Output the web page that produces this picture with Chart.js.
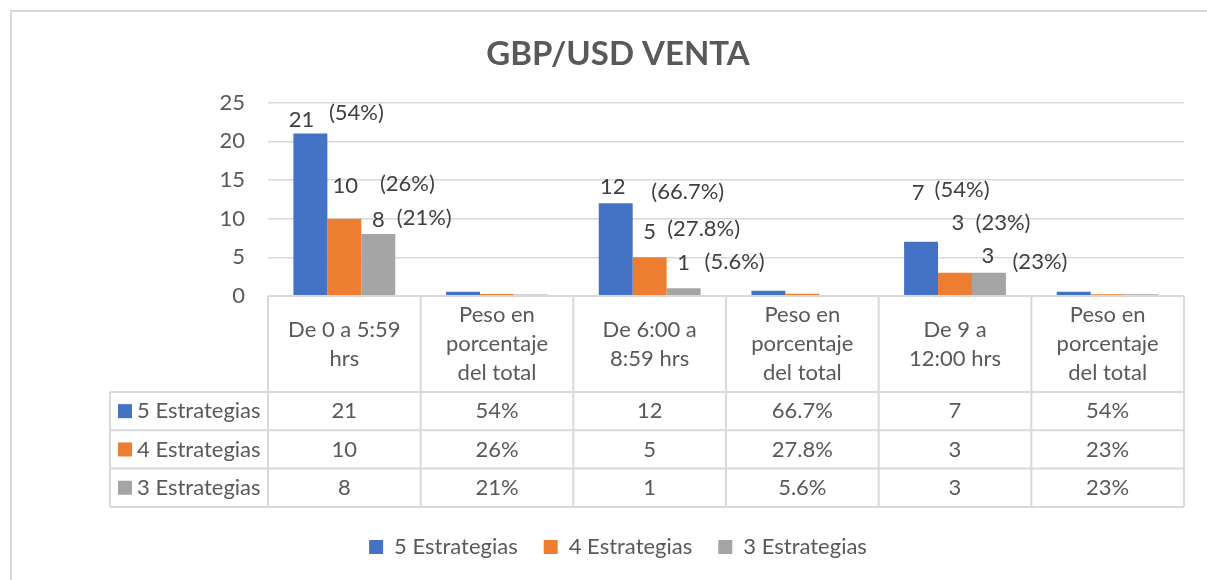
<!DOCTYPE html>
<html lang="es">
<head>
<meta charset="UTF-8">
<title>GBP/USD VENTA</title>
<script src="https://cdn.jsdelivr.net/npm/chart.js@4.4.1/dist/chart.umd.min.js"></script>
<style>
    body {
        margin: 0;
        background: white;
    }
</style>
</head>
<body>
<canvas id="grafico" width="1207" height="580"></canvas>

<script>
    const categorias = [
        ['De 0 a 5:59', 'hrs'],
        ['Peso en', 'porcentaje', 'del total'],
        ['De 6:00 a', '8:59 hrs'],
        ['Peso en', 'porcentaje', 'del total'],
        ['De 9 a', '12:00 hrs'],
        ['Peso en', 'porcentaje', 'del total']
    ];
    const series = ['5 Estrategias', '4 Estrategias', '3 Estrategias'];
    const estrategias5 = [21, 0.54, 12, 0.667, 7, 0.54];
    const estrategias4 = [10, 0.26, 5, 0.278, 3, 0.23];
    const estrategias3 = [8, 0.21, 1, 0.056, 3, 0.23];
    const ticksY = [0, 5, 10, 15, 20, 25];
    const colores = ['#4472C4', '#ED7D31', '#A5A5A5'];

    // desplazamiento de las etiquetas (numero y porcentaje) respecto a la barra: [dx, dy, dx%, dy%]
    const desplazamientos = [
        [[-9, -14, 46, -21], [-3, -16, 72, -11], [-3, -49, 41, -52]],
        [[1, -33, 63, -35], [0, -25, 54, -28], [3, -50, 48, -50]],
        [[0, -14, 46, -16], [0, -25, 51, -26], [-1, -17, 51, -11]]
    ];

    const fuente = 'Lato';
    const gris = '#595959';
    const tam = 22;

    function formato(v) {
        return v < 1 ? Number((v * 100).toFixed(1)) + '%' : String(v);
    }

    const marco = {
        id: 'marco',
        beforeDraw(chart) {
            const ctx = chart.ctx;
            ctx.save();
            ctx.strokeStyle = '#D9D9D9';
            ctx.lineWidth = 2;
            ctx.strokeRect(11, 11, 1400, 800);
            ctx.restore();
        }
    };

    const etiquetas = {
        id: 'etiquetas',
        afterDatasetsDraw(chart) {
            const ctx = chart.ctx;
            ctx.save();
            ctx.font = tam + 'px ' + fuente;
            ctx.fillStyle = '#404040';
            ctx.textAlign = 'center';
            ctx.textBaseline = 'middle';
            chart.data.datasets.forEach((ds, i) => {
                const meta = chart.getDatasetMeta(i);
                for (let j = 0, g = 0; j < ds.data.length; j += 2, g++) {
                    const barra = meta.data[j];
                    const d = desplazamientos[i][g];
                    ctx.fillText(formato(ds.data[j]), barra.x + d[0], barra.y + d[1]);
                    ctx.fillText('(' + formato(ds.data[j + 1]) + ')', barra.x + d[2], barra.y + d[3]);
                }
            });
            ctx.restore();
        }
    };

    // tabla de datos bajo el grafico
    const tabla = {
        id: 'tabla',
        afterDraw(chart) {
            const {ctx, chartArea} = chart;
            const x = chart.scales.x;
            const n = categorias.length;
            const ancho = (chartArea.right - chartArea.left) / n;
            const izq = 110;
            const arriba = chartArea.bottom;
            const altoCab = 96, altoFila = 38.3;
            const abajo = arriba + altoCab + altoFila * 3;

            ctx.save();
            ctx.strokeStyle = '#D9D9D9';
            ctx.lineWidth = 2;
            ctx.beginPath();
            ctx.moveTo(chartArea.left, arriba);
            ctx.lineTo(chartArea.right, arriba);
            for (let r = 0; r <= 3; r++) {
                const y = arriba + altoCab + r * altoFila;
                ctx.moveTo(izq, y);
                ctx.lineTo(chartArea.right, y);
            }
            ctx.moveTo(izq, arriba + altoCab);
            ctx.lineTo(izq, abajo);
            for (let c = 0; c <= n; c++) {
                const xx = chartArea.left + c * ancho;
                ctx.moveTo(xx, arriba);
                ctx.lineTo(xx, abajo);
            }
            ctx.stroke();

            ctx.font = tam + 'px ' + fuente;
            ctx.fillStyle = gris;
            ctx.textAlign = 'center';
            ctx.textBaseline = 'middle';
            categorias.forEach((lineas, c) => {
                const cx = x.getPixelForValue(c);
                const y0 = arriba + altoCab / 2 - (lineas.length - 1) * 29 / 2;
                lineas.forEach((l, k) => ctx.fillText(l, cx, y0 + k * 29));
            });

            chart.data.datasets.forEach((ds, r) => {
                const cy = arriba + altoCab + (r + 0.5) * altoFila;
                ctx.fillStyle = ds.backgroundColor;
                ctx.fillRect(118, cy - 7, 14, 14);
                ctx.fillStyle = gris;
                ctx.textAlign = 'left';
                ctx.fillText(ds.label, 137, cy);
                ctx.textAlign = 'center';
                ds.data.forEach((v, c) => ctx.fillText(formato(v), x.getPixelForValue(c), cy));
            });
            ctx.restore();
        }
    };

    Chart.defaults.font.family = fuente;
    Chart.defaults.color = gris;

    const grafico = new Chart(document.getElementById('grafico'), {
        type: 'bar',
        data: {
            labels: categorias,
            datasets: [
                {label: series[0], data: estrategias5, backgroundColor: colores[0]},
                {label: series[1], data: estrategias4, backgroundColor: colores[1]},
                {label: series[2], data: estrategias3, backgroundColor: colores[2]}
            ]
        },
        options: {
            responsive: false,
            animation: false,
            categoryPercentage: 0.667,
            barPercentage: 1,
            layout: {padding: {left: 52, right: 23, top: 0, bottom: 12}},
            plugins: {
                title: {
                    display: true,
                    text: 'GBP/USD VENTA',
                    color: gris,
                    font: {size: 33, weight: 'bold'},
                    padding: {top: 35, bottom: 28}
                },
                legend: {
                    position: 'bottom',
                    labels: {font: {size: tam}, boxWidth: 14, boxHeight: 14, padding: 26}
                },
                tooltip: {enabled: false}
            },
            scales: {
                x: {
                    ticks: {display: false},
                    grid: {display: false},
                    border: {display: false},
                    afterFit: (s) => { s.height = 214; }
                },
                y: {
                    min: ticksY[0],
                    max: ticksY[ticksY.length - 1],
                    ticks: {stepSize: ticksY[1] - ticksY[0], padding: 23, font: {size: tam}},
                    grid: {color: '#D9D9D9', lineWidth: 1.5, drawTicks: false},
                    border: {display: false},
                    afterFit: (s) => { s.width = 216; }
                }
            }
        },
        plugins: [marco, etiquetas, tabla]
    });
</script>
</body>
</html>
